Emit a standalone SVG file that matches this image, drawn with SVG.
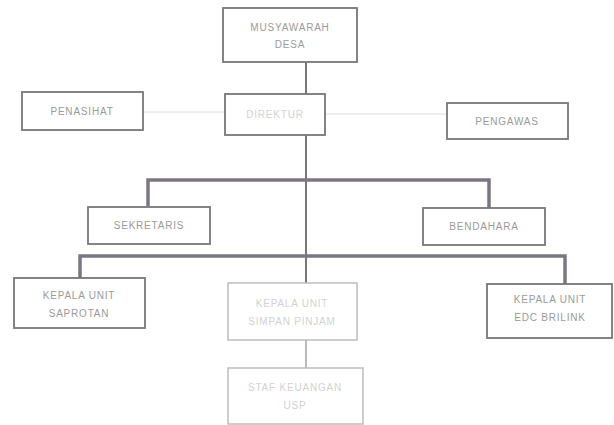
<svg xmlns="http://www.w3.org/2000/svg" width="614" height="425" viewBox="0 0 614 425">
<style>
.box{fill:#fff;stroke:#777;stroke-width:1.8}
.faint{fill:#fff;stroke:#bdbdbd;stroke-width:1.5}
.t{font-family:"Liberation Sans",Arial,sans-serif;font-size:10px;fill:#9a9a9a;text-anchor:middle;letter-spacing:0.8px}
.tf{font-family:"Liberation Sans",Arial,sans-serif;font-size:10px;fill:#d2d2d2;text-anchor:middle;letter-spacing:0.8px}
.ln{stroke:#777;stroke-width:2;fill:none}
.thick{stroke:#7c7682;stroke-width:3.5;fill:none}
.dash{stroke:#dcdcdc;stroke-width:1;fill:none}
.fl{stroke:#b8b8c8;stroke-width:2;fill:none}
</style>
<rect width="614" height="425" fill="#fff"/>
<g id="connectors">
<line class="ln" x1="306" y1="62" x2="306" y2="94"/>
<line class="dash" x1="143" y1="112" x2="225" y2="112"/>
<line class="dash" x1="325" y1="114" x2="447" y2="114"/>
<line class="ln" x1="306" y1="135" x2="306" y2="283"/>
<polyline class="thick" points="148,206 148,180 489,180 489,208"/>
<polyline class="thick" points="80,278 80,256 565,256 565,284"/>
<line class="fl" x1="306" y1="340" x2="306" y2="368"/>
</g>
<g id="musyawarah"><rect class="box" x="223" y="8" width="134" height="54"/><text class="t" x="290" y="31">MUSYAWARAH</text><text class="t" x="290" y="48">DESA</text></g>
<g id="penasihat"><rect class="box" x="22" y="92" width="121" height="38"/><text class="t" x="82" y="115">PENASIHAT</text></g>
<g id="direktur"><rect class="box" x="225" y="94" width="100" height="41"/><text class="tf" x="275" y="118">DIREKTUR</text></g>
<g id="pengawas"><rect class="box" x="447" y="103" width="121" height="36"/><text class="t" x="507" y="125">PENGAWAS</text></g>
<g id="sekretaris"><rect class="box" x="88" y="207" width="122" height="37"/><text class="t" x="149" y="229">SEKRETARIS</text></g>
<g id="bendahara"><rect class="box" x="423" y="208" width="122" height="37"/><text class="t" x="484" y="230">BENDAHARA</text></g>
<g id="saprotan"><rect class="box" x="14" y="278" width="131" height="50"/><text class="t" x="79" y="299">KEPALA UNIT</text><text class="t" x="79" y="317">SAPROTAN</text></g>
<g id="simpanpinjam"><rect class="faint" x="228" y="283" width="129" height="57"/><text class="tf" x="292" y="307">KEPALA UNIT</text><text class="tf" x="292" y="325">SIMPAN PINJAM</text></g>
<g id="brilink"><rect class="box" x="487" y="284" width="125" height="54"/><text class="t" x="550" y="303">KEPALA UNIT</text><text class="t" x="550" y="321">EDC BRILINK</text></g>
<g id="staf"><rect class="faint" x="228" y="368" width="135" height="56"/><text class="tf" x="295" y="391">STAF KEUANGAN</text><text class="tf" x="295" y="409">USP</text></g>
</svg>
